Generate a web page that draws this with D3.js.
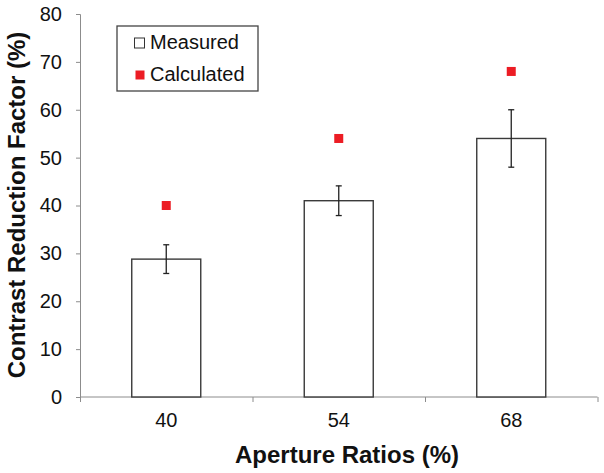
<!DOCTYPE html>
<html>
<head>
<meta charset="utf-8">
<script src="https://cdn.jsdelivr.net/npm/d3@7"></script>
<style>
  html, body { margin: 0; padding: 0; background: #fff; }
  svg { display: block; font-family: "Liberation Sans", Arial, sans-serif; }
</style>
</head>
<body>
<svg id="chart" width="604" height="473"></svg>
<script>
const categories = ["40", "54", "68"];
const measured = [28.8, 41.0, 54.0];
const measuredErr = [3.0, 3.1, 6.0];
const calculated = [40, 54, 68];
const yTicks = [0, 10, 20, 30, 40, 50, 60, 70, 80];
const xTitle = "Aperture Ratios (%)";
const yTitle = "Contrast Reduction Factor (%)";
const legendLabels = ["Measured", "Calculated"];

const svg = d3.select("#chart");
const mLeft = 80, mRight = 597.5, mTop = 14, mBottom = 397;

const y = d3.scaleLinear().domain([0, 80]).range([mBottom, mTop]);
const x = d3.scaleBand().domain(categories).range([mLeft, mRight]).padding(0);
const xb = d3.scaleLinear().domain([0, categories.length]).range([mLeft, mRight]);
const barW = x.bandwidth() * 0.4;

// Y axis
const yAxis = svg.append("g").attr("transform", `translate(${mLeft},0)`)
  .call(d3.axisLeft(y).tickValues(yTicks).tickSize(4).tickPadding(14).tickFormat(d3.format("d")));
yAxis.selectAll("path, line").attr("stroke", "#8c8c8c");
yAxis.selectAll("text").attr("font-size", 20).attr("fill", "#111")
  .attr("font-family", "Liberation Sans, Arial, sans-serif");

// X axis boundary ticks
const xAxisB = svg.append("g").attr("transform", `translate(0,${mBottom})`)
  .call(d3.axisBottom(xb).tickValues(d3.range(categories.length + 1)).tickSize(5).tickFormat(""));
xAxisB.selectAll("path, line").attr("stroke", "#8c8c8c");
xAxisB.select("path").attr("d", `M${mLeft},0H${mRight}`);

// X labels
const xAxisL = svg.append("g").attr("transform", `translate(0,${mBottom})`)
  .call(d3.axisBottom(x).tickSize(0).tickPadding(16));
xAxisL.select("path").remove();
xAxisL.selectAll("text").attr("font-size", 20).attr("fill", "#111")
  .attr("font-family", "Liberation Sans, Arial, sans-serif");

// Bars
svg.append("g").selectAll("rect").data(categories).join("rect")
  .attr("x", (d) => x(d) + x.bandwidth() / 2 - barW / 2)
  .attr("y", (d, i) => y(measured[i]))
  .attr("width", barW)
  .attr("height", (d, i) => y(0) - y(measured[i]))
  .attr("fill", "#fff")
  .attr("stroke", "#3a3a3a")
  .attr("stroke-width", 1.4);

// Error bars
const eg = svg.append("g").attr("stroke", "#222").attr("stroke-width", 1.3);
categories.forEach((c, i) => {
  const cx = x(c) + x.bandwidth() / 2;
  const y1 = y(measured[i] + measuredErr[i]);
  const y2 = y(measured[i] - measuredErr[i]);
  eg.append("line").attr("x1", cx).attr("x2", cx).attr("y1", y1).attr("y2", y2);
  eg.append("line").attr("x1", cx - 3).attr("x2", cx + 3).attr("y1", y1).attr("y2", y1);
  eg.append("line").attr("x1", cx - 3).attr("x2", cx + 3).attr("y1", y2).attr("y2", y2);
});

// Calculated points
const sq = 9;
svg.append("g").selectAll("rect").data(categories).join("rect")
  .attr("x", (d) => x(d) + x.bandwidth() / 2 - sq / 2)
  .attr("y", (d, i) => y(calculated[i]) - sq / 2)
  .attr("width", sq).attr("height", sq)
  .attr("fill", "#ec1c24");

// Legend
const lg = svg.append("g");
lg.append("rect").attr("x", 117).attr("y", 26).attr("width", 141).attr("height", 65)
  .attr("fill", "#fff").attr("stroke", "#444").attr("stroke-width", 1.3);
lg.append("rect").attr("x", 134.5).attr("y", 38).attr("width", 10).attr("height", 10)
  .attr("fill", "#fff").attr("stroke", "#333").attr("stroke-width", 1);
lg.append("rect").attr("x", 135.5).attr("y", 70.5).attr("width", 9).attr("height", 9)
  .attr("fill", "#ec1c24");
lg.selectAll("text").data(legendLabels).join("text")
  .attr("x", 150).attr("y", (d, i) => 48.5 + i * 32.5)
  .attr("font-size", 20).attr("fill", "#111").text((d) => d);

// Axis titles
svg.append("text").attr("x", 347).attr("y", 463).attr("text-anchor", "middle")
  .attr("font-size", 24).attr("font-weight", "bold").attr("fill", "#111").text(xTitle);
svg.append("text").attr("transform", "translate(25,205) rotate(-90)").attr("text-anchor", "middle")
  .attr("font-size", 24).attr("font-weight", "bold").attr("fill", "#111").text(yTitle);
</script>
</body>
</html>
